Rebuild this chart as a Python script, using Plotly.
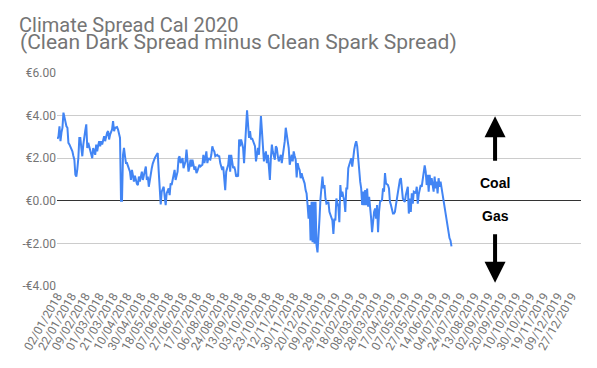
import pandas as pd
import plotly.graph_objects as go

# ---- data -------------------------------------------------------------
title_line1 = "Climate Spread Cal 2020"
title_line2 = "(Clean Dark Spread minus Clean Spark Spread)"

start_date = "2018-01-02"   # first trading day shown
end_date = "2020-01-09"     # last (empty) category on the axis

# daily (business-day) climate spread, EUR/MWh
spread = [
    2.9, 3.03, 3.5, 2.8, 3.2, 3.43, 4.14, 3.9, 3.67, 3.5,
    3.43, 2.72, 2.65, 2.56, 2.45, 2.32, 2.1, 1.93, 1.22, 1.14,
    1.5, 2.0, 2.95, 2.95, 2.5, 2.09, 2.64, 3.11, 3.3, 3.59,
    2.48, 2.72, 2.55, 2.4, 2.16, 2.0, 2.48, 2.3, 2.16, 2.64, 2.32,
    2.6, 2.8, 2.56, 2.8, 2.64, 2.8, 3.03, 2.8, 3.11, 3.2,
    3.27, 2.88, 3.11, 3.2, 3.35, 3.74, 3.27, 3.43, 3.45, 3.46,
    3.35, 3.2, 2.95, 0.0, 0.0, 2.16, 2.48, 2.1, 1.77, 1.77,
    1.61, 1.5, 1.37, 0.98, 1.45, 1.2, 0.9, 1.18, 0.9, 0.8,
    0.74, 1.14, 0.9, 1.2, 1.37, 0.98, 1.22, 1.4, 1.61, 0.98,
    1.14, 0.66, 1.0, 1.37, 1.53, 1.75, 1.93, 2.0, 2.09, 2.2, 2.24,
    1.37, 0.58, -0.17, 0.43, 0.55, 0.66, 0.19, -0.2, 0.35, 0.45,
    0.58, 0.27, 0.82, 0.74, 1.0, 1.22, 1.45, 0.98, 1.2, 1.37,
    2.0, 2.09, 1.77, 1.9, 2.0, 1.53, 1.7, 1.85, 2.4, 1.77,
    1.37, 1.6, 1.93, 1.61, 1.93, 1.7, 1.45, 1.61, 1.3, 1.4,
    1.53, 1.69, 1.61, 1.65, 1.69, 2.16, 1.77, 2.0, 2.32, 1.77,
    2.0, 1.95, 1.93, 2.16, 2.56, 2.4, 2.32, 2.09, 2.12, 2.16, 2.1,
    2.09, 1.77, 1.6, 1.45, 1.61, 1.1, 0.5, 1.37, 1.5, 1.69,
    2.16, 1.37, 2.16, 1.8, 1.53, 1.61, 1.45, 1.14, 1.2, 1.14,
    2.88, 2.56, 2.88, 2.7, 2.48, 1.77, 2.88, 3.43, 4.25, 3.59,
    2.95, 3.27, 2.88, 2.95, 2.8, 2.64, 2.56, 1.85, 2.2, 2.48,
    2.16, 2.95, 3.98, 3.27, 2.16, 1.85, 2.1, 2.32, 1.77, 2.16,
    1.6, 0.98, 2.0, 2.64, 2.3, 2.09, 1.93, 2.56, 2.48, 2.1,
    1.85, 2.0, 2.16, 1.77, 2.1, 2.48, 2.8, 3.43, 3.1, 2.8, 2.48,
    1.69, 1.9, 2.16, 1.85, 2.32, 2.1, 1.93, 1.1, 1.77, 1.55,
    1.45, 1.06, 1.3, 1.1, 0.98, 0.82, 0.5, 0.35, -0.2, -0.84,
    -0.2, -1.86, -0.05, -1.95, -0.05, -2.02, -0.05, -2.1, -2.42, -1.79,
    -0.84, 0.11, 0.66, 1.14, 0.58, 0.74, 0.11, -0.13, -0.1, -0.05,
    -0.52, -0.68, -0.8, -0.92, -1.55, -0.84, -0.92, 0.11, -0.1, -0.28,
    -1.0, 0.74, 0.19, 0.43, 0.2, 0.0, -0.52, 0.58, 0.58, 1.53, 1.69,
    1.85, 2.0, 1.61, 2.16, 2.4, 2.64, 2.8, 2.56, 2.0, 1.22,
    0.9, 0.58, -0.2, 0.43, -0.2, 0.5, -0.2, 0.58, -0.28, 0.19,
    -0.2, -0.8, -1.47, -0.84, -0.52, -0.36, -0.84, -0.2, -1.47, -0.52,
    -0.05, 0.0, 0.03, 0.58, 0.43, 1.3, 0.82, 0.78, 0.74, 0.58,
    -0.05, -0.2, -0.36, -0.6, -0.6, -0.52, -0.2, 0.11, 0.58, 0.8,
    0.98, 1.06, 0.58, 0.11, 0.0, -0.05, 0.27, 0.45, 0.66, -0.6, 0.11,
    -0.52, 0.35, -0.13, 0.43, 0.4, 0.35, 0.66, -0.13, 0.3, 0.58,
    0.74, 0.66, 1.0, 1.3, 1.66, 1.37, 0.74, 1.22, 0.43, 1.22,
    0.74, 1.06, 0.8, 0.43, 1.14, 0.58, 0.9, 0.35, 1.06, 0.66,
    0.9, 0.6, 0.27, -0.13, -0.36, -0.6, -0.84, -1.31, -1.63, -1.75,
    -1.86, -2.14,
]

x_tick_labels = [
    "02/01/2018", "22/01/2018", "09/02/2018", "01/03/2018", "21/03/2018",
    "10/04/2018", "30/04/2018", "18/05/2018", "07/06/2018", "27/06/2018",
    "17/07/2018", "06/08/2018", "24/08/2018", "13/09/2018", "03/10/2018",
    "23/10/2018", "12/11/2018", "30/11/2018", "20/12/2018", "09/01/2019",
    "29/01/2019", "18/02/2019", "08/03/2019", "28/03/2019", "17/04/2019",
    "07/05/2019", "27/05/2019", "14/06/2019", "04/07/2019", "24/07/2019",
    "13/08/2019", "02/09/2019", "20/09/2019", "10/10/2019", "30/10/2019",
    "19/11/2019", "09/12/2019", "27/12/2019",
]

y_tick_values = [-4, -2, 0, 2, 4, 6]
y_tick_labels = ["-€4.00", "-€2.00", "€0.00", "€2.00", "€4.00", "€6.00"]

coal_label = "Coal"
gas_label = "Gas"

# ---- figure -----------------------------------------------------------
# the page body adds an 8 px margin, so the figure is 8 px smaller each way
W, H = 589, 360
ML, MR, MT, MB = 49, 16, 65, 82
PW, PH = W - ML - MR, H - MT - MB

dates = pd.bdate_range(start_date, end_date)
categories = [d.strftime("%d/%m/%Y") for d in dates]
y_all = spread + [None] * (len(categories) - len(spread))

fig = go.Figure(
    go.Scatter(
        x=categories,
        y=y_all,
        mode="lines",
        line=dict(color="#4285F4", width=2),
        connectgaps=False,
        hoverinfo="x+y",
    )
)

fig.update_layout(
    width=W,
    height=H,
    margin=dict(l=ML, r=MR, t=MT, b=MB),
    paper_bgcolor="white",
    plot_bgcolor="white",
    showlegend=False,
    title=dict(
        text=title_line1,
        font=dict(family="Roboto", size=20, color="#757575"),
        x=11 / W,
        xref="container",
        xanchor="left",
        y=1 - 17 / H,
        yref="container",
        yanchor="middle",
    ),
    xaxis=dict(
        type="category",
        range=[-0.5, len(categories) - 0.5],
        tickmode="array",
        tickvals=x_tick_labels,
        ticktext=x_tick_labels,
        tickangle=-60,
        tickfont=dict(family="Roboto", size=12, color="#757575"),
        showgrid=False,
        showline=False,
        zeroline=False,
        ticks="",
    ),
    yaxis=dict(
        range=[-4, 6],
        tickmode="array",
        tickvals=y_tick_values,
        ticktext=y_tick_labels,
        tickfont=dict(family="Roboto", size=12, color="#757575"),
        showgrid=True,
        gridcolor="#cccccc",
        gridwidth=1,
        zeroline=True,
        zerolinecolor="#333333",
        zerolinewidth=1,
        showline=False,
        ticks="",
    ),
)

# second title line (tighter line spacing than a <br> gives)
fig.add_annotation(
    x=(10 - ML) / PW, xref="paper", xanchor="left",
    y=1 + (MT - 34) / PH, yref="paper", yanchor="middle",
    text=title_line2, showarrow=False,
    font=dict(family="Roboto", size=21, color="#757575"),
)

arrow_x = 0.836
fig.add_annotation(
    x=arrow_x, xref="paper", y=3.97, yref="y",
    ax=0, ay=46, axref="pixel", ayref="pixel",
    showarrow=True, arrowhead=2, arrowsize=1.05, arrowwidth=4,
    arrowcolor="black", text="",
)
fig.add_annotation(
    x=arrow_x, xref="paper", y=-3.85, yref="y",
    ax=0, ay=-50, axref="pixel", ayref="pixel",
    showarrow=True, arrowhead=2, arrowsize=1.05, arrowwidth=4,
    arrowcolor="black", text="",
)
fig.add_annotation(
    x=arrow_x, xref="paper", xanchor="center", y=0.82, yref="y",
    text="<b>" + coal_label + "</b>", showarrow=False,
    font=dict(family="Liberation Sans, Arial", size=14, color="black"),
)
fig.add_annotation(
    x=arrow_x, xref="paper", xanchor="center", y=-0.69, yref="y",
    text="<b>" + gas_label + "</b>", showarrow=False,
    font=dict(family="Liberation Sans, Arial", size=14, color="black"),
)

fig.write_html("out.html")
